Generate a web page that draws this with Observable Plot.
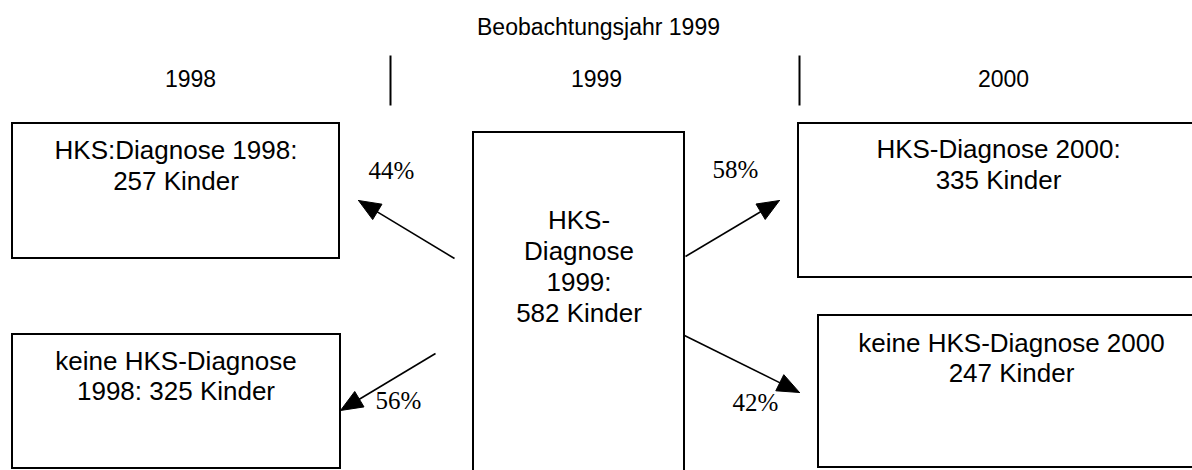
<!DOCTYPE html>
<html>
<head>
<meta charset="utf-8">
<script src="https://cdn.jsdelivr.net/npm/d3@7"></script>
<script src="https://cdn.jsdelivr.net/npm/@observablehq/plot@0.6"></script>
<style>
  html, body { margin: 0; padding: 0; background: #fff; }
  svg { display: block; }
</style>
</head>
<body>
<div id="chart"></div>
<script>
// ---- data (values and texts) ----
const title = "Beobachtungsjahr 1999";
const years = ["1998", "1999", "2000"];
const counts = [257, 325, 582, 335, 247];           // box1, box2, centre, box3, box4
const shares = [44, 56, 58, 42];                     // arrows: ->box1, ->box2, ->box3, ->box4
const boxLabels = [
  ["HKS:Diagnose 1998:", `${counts[0]} Kinder`],
  ["keine HKS-Diagnose", `1998: ${counts[1]} Kinder`],
  ["HKS-", "Diagnose", "1999:", `${counts[2]} Kinder`],
  ["HKS-Diagnose 2000:", `${counts[3]} Kinder`],
  ["keine HKS-Diagnose 2000", `${counts[4]} Kinder`]
];

// ---- layout (diagram units = pixels of the 1192x470 canvas) ----
const W = 1192, H = 470;
const boxX1 = [12, 12, 473, 798, 818];
const boxX2 = [339, 340, 684, 1200, 1200];
const boxY1 = [123, 334, 132, 123, 315];
const boxY2 = [258, 468, 476, 277, 467];
const textCx = [175.5, 175.5, 578.5, 998, 1011];
const textBase = [[158, 189], [369, 399], [228, 259, 290, 321], [157, 188], [351, 381]];
const yearCx = [190, 596, 1003];
const dividerX = [390, 799];
const arrowFrom = [[454, 258], [435, 353], [685, 256], [684, 335]];
const arrowTo = [[358, 200], [340, 410], [779, 200], [799, 392]];
const shareX = [368, 375, 712, 732];
const shareBase = [178, 408, 177, 410];

const sans = "'Liberation Sans', Arial, Helvetica, sans-serif";
const serif = "'Liberation Serif', 'Times New Roman', serif";
const boxFont = 26, headFont = 23, pctFont = 25;

// ---- tables built from the arrays ----
const boxes = boxX1.map((x1, i) => ({x1, x2: boxX2[i], y1: boxY1[i], y2: boxY2[i]}));
const lines = boxLabels.flatMap((ls, i) =>
  ls.map((t, j) => ({text: t, x: textCx[i], y: textBase[i][j] - 0.71 * boxFont})));
const yearRows = years.map((t, i) => ({text: t, x: yearCx[i], y: 86 - 0.71 * headFont}));
const dividers = dividerX.map(x => ({x, y1: 55, y2: 105}));

const headLen = 22, headW = 18;
const arrows = arrowFrom.map((f, i) => {
  const t = arrowTo[i];
  const dx = t[0] - f[0], dy = t[1] - f[1];
  const len = Math.hypot(dx, dy);
  const ux = dx / len, uy = dy / len;
  return {f, t, ux, uy, bx: t[0] - ux * (headLen - 2), by: t[1] - uy * (headLen - 2)};
});
const shafts = arrows.map(a => ({x1: a.f[0], y1: a.f[1], x2: a.bx, y2: a.by}));
const heads = arrows.flatMap((a, i) => {
  const bx = a.t[0] - a.ux * headLen, by = a.t[1] - a.uy * headLen;
  const nx = -a.uy, ny = a.ux;
  return [
    {id: i, x: a.t[0], y: a.t[1]},
    {id: i, x: bx + nx * headW / 2, y: by + ny * headW / 2},
    {id: i, x: bx - nx * headW / 2, y: by - ny * headW / 2},
    {id: i, x: a.t[0], y: a.t[1]}
  ];
});
const pctRows = shares.map((s, i) => ({text: `${s}%`, x: shareX[i], y: shareBase[i] - 0.71 * pctFont}));

const chart = Plot.plot({
  width: W,
  height: H,
  margin: 0,
  style: {background: "white", overflow: "hidden"},
  x: {domain: [0, W], range: [0, W], axis: null},
  y: {domain: [0, H], range: [0, H], axis: null},
  marks: [
    Plot.text([title], {x: () => 598, y: () => 34 - 0.71 * headFont, text: d => d,
      fontSize: headFont, fontFamily: sans, lineAnchor: "top", textAnchor: "middle", fill: "black"}),
    Plot.text(yearRows, {x: "x", y: "y", text: "text",
      fontSize: headFont, fontFamily: sans, lineAnchor: "top", textAnchor: "middle", fill: "black"}),
    Plot.link(dividers, {x1: "x", x2: "x", y1: "y1", y2: "y2", stroke: "black", strokeWidth: 2}),
    Plot.rect(boxes, {x1: "x1", x2: "x2", y1: "y1", y2: "y2", fill: "white", stroke: "black", strokeWidth: 2}),
    Plot.text(lines, {x: "x", y: "y", text: "text",
      fontSize: boxFont, fontFamily: sans, lineAnchor: "top", textAnchor: "middle", fill: "black"}),
    Plot.link(shafts, {x1: "x1", y1: "y1", x2: "x2", y2: "y2", stroke: "black", strokeWidth: 1.6}),
    Plot.line(heads, {x: "x", y: "y", z: "id", fill: "black", stroke: "black", strokeWidth: 1}),
    Plot.text(pctRows, {x: "x", y: "y", text: "text",
      fontSize: pctFont, fontFamily: serif, lineAnchor: "top", textAnchor: "start", fill: "black"})
  ]
});
document.getElementById("chart").appendChild(chart);
</script>
</body>
</html>
